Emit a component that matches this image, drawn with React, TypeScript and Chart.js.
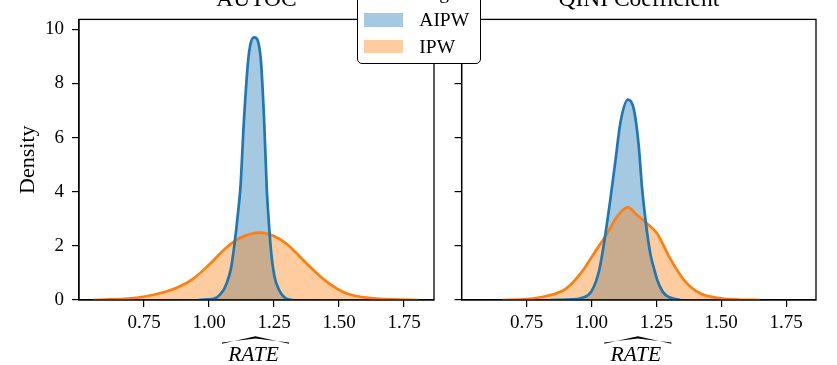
import React, { useEffect, useRef } from 'react';
import { Chart, registerables } from 'chart.js';

Chart.register(...registerables);

// ---- data ----
const panelTitles = ['AUTOC', 'QINI Coefficient'];
const seriesNames = ['AIPW', 'IPW'];
const legendTitle = 'Scoring';
const xTicks = [0.75, 1.0, 1.25, 1.5, 1.75];
const yTicks = [0, 2, 4, 6, 8, 10];
const yAxisLabel = 'Density';
const xAxisLabel = 'RATE';

// AUTOC panel – AIPW density
const autocAipwX = [0.958, 0.99, 1.03, 1.055, 1.067, 1.084, 1.097, 1.11, 1.121, 1.134, 1.152, 1.174, 1.198, 1.212, 1.222, 1.229, 1.238, 1.251, 1.27, 1.295, 1.324];
const autocAipwY = [0, 0.02, 0.1, 0.36, 0.6, 1.15, 2.0, 3.1, 4.2, 6.6, 9.0, 9.7, 9.0, 6.6, 4.1, 3.0, 1.85, 0.9, 0.36, 0.06, 0];
// AUTOC panel – IPW density
const autocIpwX = [0.555, 0.62, 0.7, 0.8, 0.876, 0.94, 1.004, 1.068, 1.119, 1.196, 1.247, 1.299, 1.376, 1.453, 1.53, 1.632, 1.7, 1.805];
const autocIpwY = [0, 0.02, 0.06, 0.22, 0.45, 0.79, 1.34, 1.95, 2.29, 2.49, 2.37, 2.07, 1.34, 0.67, 0.24, 0.06, 0.02, 0];
// QINI panel – AIPW density
const qiniAipwX = [0.84, 0.92, 0.965, 1.0, 1.03, 1.05, 1.072, 1.092, 1.112, 1.141, 1.163, 1.182, 1.195, 1.209, 1.227, 1.24, 1.255, 1.275, 1.3, 1.342];
const qiniAipwY = [0, 0.02, 0.08, 0.32, 1.1, 2.19, 3.65, 5.11, 6.57, 7.4, 7.06, 5.72, 4.14, 2.9, 1.7, 1.2, 0.7, 0.3, 0.1, 0];
// QINI panel – IPW density
const qiniIpwX = [0.657, 0.75, 0.804, 0.85, 0.9, 0.96, 1.01, 1.06, 1.1, 1.14, 1.18, 1.215, 1.253, 1.304, 1.36, 1.42, 1.5, 1.57, 1.65];
const qiniIpwY = [0, 0.03, 0.1, 0.2, 0.4, 1.0, 1.72, 2.45, 3.1, 3.42, 3.1, 2.82, 2.46, 1.52, 0.7, 0.24, 0.06, 0.01, 0];

const X_MIN = 0.5;
const X_MAX = 1.865;
const Y_MIN = 0;
const Y_MAX = 10.365;

// ---- styles ----
const FONT = "'Liberation Serif', 'Times New Roman', serif";
const BLUE = '#1f77b4';
const ORANGE = '#ff7f0e';
const BLUE_FILL = 'rgba(31,119,180,0.4)';
const ORANGE_FILL = 'rgba(255,127,14,0.4)';

const pts = (xs: number[], ys: number[]) => xs.map((x, i) => ({ x, y: ys[i] }));

function decorPlugin(title: string) {
  return {
    id: 'decor',
    afterDraw(chart: any) {
      const { ctx, chartArea: a } = chart;
      ctx.save();
      ctx.strokeStyle = '#000';
      ctx.lineWidth = 1.3;
      ctx.strokeRect(a.left, a.top, a.right - a.left, a.bottom - a.top);
      const cx = (a.left + a.right) / 2;
      ctx.fillStyle = '#000';
      ctx.textAlign = 'center';
      ctx.textBaseline = 'alphabetic';
      ctx.font = `23.5px ${FONT}`;
      ctx.fillText(title, cx, 5.5);
      ctx.font = `italic 21.5px ${FONT}`;
      ctx.fillText(xAxisLabel, cx - 3, 361);
      // wide hat over the label
      ctx.beginPath();
      ctx.moveTo(cx - 34.5, 343.8);
      ctx.lineTo(cx - 1, 336.2);
      ctx.lineTo(cx + 32.5, 343.8);
      ctx.lineTo(cx + 32.5, 342.6);
      ctx.lineTo(cx - 1, 338.4);
      ctx.lineTo(cx - 34.5, 342.6);
      ctx.closePath();
      ctx.fill();
      ctx.restore();
    },
  };
}

function makeConfig(
  title: string,
  aipw: { x: number; y: number }[],
  ipw: { x: number; y: number }[],
  showYLabels: boolean,
  yAxisWidth: number,
  rightPad: number
): any {
  const common = { pointRadius: 0, cubicInterpolationMode: 'monotone', tension: 0 };
  return {
    type: 'line',
    data: {
      datasets: [
        { ...common, label: seriesNames[0] + ' hist', data: aipw, borderWidth: 0, borderColor: 'rgba(0,0,0,0)', backgroundColor: BLUE_FILL, fill: 'origin', order: 4 },
        { ...common, label: seriesNames[1] + ' hist', data: ipw, borderWidth: 0, borderColor: 'rgba(0,0,0,0)', backgroundColor: ORANGE_FILL, fill: 'origin', order: 3 },
        { ...common, label: seriesNames[1], data: ipw, borderWidth: 2.7, borderColor: ORANGE, fill: false, order: 2 },
        { ...common, label: seriesNames[0], data: aipw, borderWidth: 2.7, borderColor: BLUE, fill: false, order: 1 },
      ],
    },
    options: {
      responsive: false,
      animation: false,
      events: [],
      layout: { padding: { top: 16, right: rightPad, left: 0, bottom: 0 } },
      plugins: { legend: { display: false }, tooltip: { enabled: false }, title: { display: false } },
      scales: {
        x: {
          type: 'linear',
          min: X_MIN,
          max: X_MAX,
          afterBuildTicks: (s: any) => { s.ticks = xTicks.map((v) => ({ value: v })); },
          afterFit: (s: any) => { s.height = 65; },
          ticks: { color: '#000', font: { family: FONT, size: 19 }, padding: 5, maxRotation: 0, callback: (v: any) => Number(v).toFixed(2) },
          grid: { drawOnChartArea: false, drawTicks: true, tickLength: 7, color: '#000', lineWidth: 1.2 },
          border: { display: true, color: '#000', width: 1.3 },
        },
        y: {
          type: 'linear',
          min: Y_MIN,
          max: Y_MAX,
          afterBuildTicks: (s: any) => { s.ticks = yTicks.map((v) => ({ value: v })); },
          afterFit: (s: any) => { s.width = yAxisWidth; },
          ticks: { color: '#000', font: { family: FONT, size: 19 }, padding: 8, callback: (v: any) => (showYLabels ? String(v) : '') },
          grid: { drawOnChartArea: false, drawTicks: true, tickLength: 7, color: '#000', lineWidth: 1.2 },
          border: { display: true, color: '#000', width: 1.3 },
          title: showYLabels
            ? { display: true, text: yAxisLabel, color: '#000', font: { family: FONT, size: 22 }, padding: { top: 15, bottom: 0 } }
            : { display: false },
        },
      },
    },
    plugins: [decorPlugin(title)],
  };
}

export default function App() {
  const leftRef = useRef<HTMLCanvasElement>(null);
  const rightRef = useRef<HTMLCanvasElement>(null);

  useEffect(() => {
    const c1 = new Chart(leftRef.current as HTMLCanvasElement, makeConfig(panelTitles[0], pts(autocAipwX, autocAipwY), pts(autocIpwX, autocIpwY), true, 79, 14));
    const c2 = new Chart(rightRef.current as HTMLCanvasElement, makeConfig(panelTitles[1], pts(qiniAipwX, qiniAipwY), pts(qiniIpwX, qiniIpwY), false, 13.6, 21));
    return () => {
      c1.destroy();
      c2.destroy();
    };
  }, []);

  const textStyle: React.CSSProperties = { position: 'absolute', fontFamily: FONT, fontSize: 19.5, lineHeight: '19.5px', color: '#000', whiteSpace: 'nowrap', zIndex: 3 };

  return (
    <div style={{ position: 'absolute', left: 0, top: 0, width: 837, height: 365, overflow: 'hidden', background: '#fff' }}>
      <canvas ref={leftRef} width={448} height={365} style={{ position: 'absolute', left: 0, top: 0, width: 448, height: 365 }} />
      <canvas ref={rightRef} width={389} height={365} style={{ position: 'absolute', left: 448, top: 0, width: 389, height: 365 }} />
      <div style={{ position: 'absolute', left: 356.5, top: -40, width: 124.5, height: 103.8, boxSizing: 'border-box', border: '1.3px solid #000', borderRadius: 5, background: '#fff', zIndex: 2 }} />
      <div style={{ ...textStyle, left: 356.5, width: 124.5, textAlign: 'center', top: -16.8 }}>{legendTitle}</div>
      <div style={{ position: 'absolute', left: 364, top: 13.3, width: 38.7, height: 13.4, background: BLUE_FILL, zIndex: 3 }} />
      <div style={{ position: 'absolute', left: 364, top: 40, width: 38.7, height: 13.3, background: ORANGE_FILL, zIndex: 3 }} />
      <div style={{ ...textStyle, left: 419.3, top: 10.4 }}>{seriesNames[0]}</div>
      <div style={{ ...textStyle, left: 419.3, top: 37.0 }}>{seriesNames[1]}</div>
    </div>
  );
}
